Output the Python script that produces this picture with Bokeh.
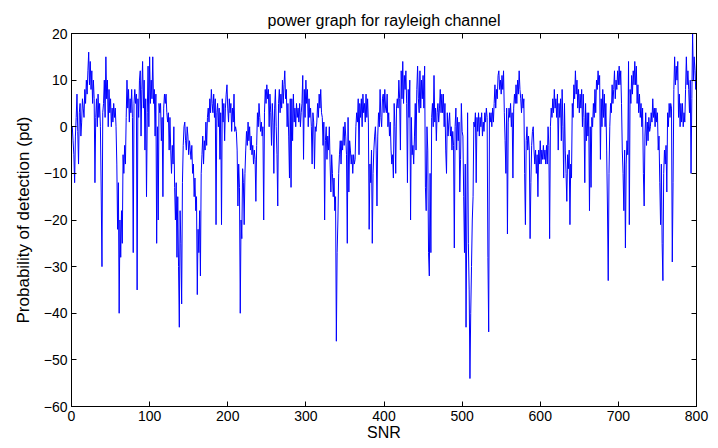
from bokeh.plotting import figure
from bokeh.models import LinearAxis, FixedTicker, Range1d, CustomLabelingPolicy
from bokeh.embed import file_html
from bokeh.resources import INLINE

# SNR index 1..800
snr = list(range(1, 801))

# values, 20 per row (x = 1..800)
power = [
    0, -3, -6, -12, -2, 2, 7, -1, -8, 3, 5, -2, 1, 6, 4, 2, 8, 5, 10, 7,
    12, 16, 9, 14, 8, 12, 5, 10, 6, -12, 2, 6, 0, 7, 2, 5, 0, -14, -30, 3,
    5, 10, 2, 15, 6, 10, 0, 8, 3, 6, 0, 4, 1, 5, 2, 4, 0, -8, -22, -12,
    -40, -20, -28, -18, -25, -6, -10, -4, -8, 2, 10, 4, 8, 1, 6, 3, 8, 2, -27, 5,
    8, 5, 7, -35, 6, 2, 10, 12, -2, 8, 14, 4, 10, -5, 6, -15, 3, 13, 0, 15,
    5, 10, 6, 15, 5, 8, -2, 7, -25, 0, -20, 5, 3, 5, -3, 2, -15, 4, 7, 5,
    7, 3, 1, 3, -5, 2, -5, -10, -4, -8, 0, -13, -20, -12, -28, -15, -30, -43, -18, -25,
    -38, -12, -4, 0, 1, -3, -5, 0, -2, -6, -3, -5, -7, -4, -10, -8, -15, -11, -18, -15,
    -36, -22, -27, -18, -32, -10, -6, -2, -8, -3, -5, 1, -4, 2, 4, 1, 6, 3, 8, 5,
    3, 7, 2, 6, -21, 3, 5, 0, 4, -7, 3, -21, 6, 1, 5, -3, 4, 7, 9, 4,
    1, 6, 3, 5, -1, 4, 1, 7, -1, 0, -1, -5, -17, -8, -13, -40, -20, -24, -9, -12,
    -21, -10, -5, -1, -4, 1, -3, 0, -5, -2, -6, -4, -8, -5, -7, -16, -4, 3, 0, 5,
    2, -1, 1, -2, 0, -20, 3, 8, 5, 9, 6, 8, 0, 7, 3, -4, 5, 1, -10, 4,
    8, 0, -6, -17, 5, 8, 3, 7, 4, 10, 5, 9, 12, 6, 8, 0, 5, -2, -11, 6,
    -13, 6, -3, 7, 1, 4, 0, 5, 2, 4, 1, 5, 0, 3, 5, 11, -7, 8, 2, 10,
    5, 8, 0, 6, 2, 4, 0, -8, 3, 1, -9, 0, -1, 1, 5, 2, 7, 4, 8, 3,
    2, -4, 1, -20, -3, 0, -7, -2, -5, 0, -8, -14, -6, -10, -15, -11, -18, -15, -46, -27,
    -20, -10, -6, -3, -8, -3, -5, 0, -4, 1, -2, -6, -25, 2, -14, -3, -5, -8, -6, -10,
    -6, -8, -7, 0, 3, 1, 6, -6, 5, 2, 6, 0, 7, 3, 5, 1, 7, 2, 6, 1,
    -22, -8, -12, -5, -25, -10, -5, -2, 0, -5, -17, -2, 3, 0, 8, 2, 0, 6, 7, 3,
    8, 4, 3, 7, 0, 3, -2, 1, -5, -8, -6, -11, 5, 0, -10, 4, 6, 4, 10, 6,
    -5, 12, 6, 14, 5, 11, 8, 12, 5, -12, 8, 2, 10, -20, 2, -6, -4, -8, -2, 5,
    -5, 8, 13, 6, 3, 12, 4, 10, 6, 11, 4, 13, -13, -18, 0, -5, -27, -32, -10, -27,
    2, 5, 0, 11, 1, 4, -3, 3, 5, 1, 4, 8, 3, 7, 3, 7, 0, 5, -5, -10,
    3, -2, 1, 3, -2, 0, -5, -1, -4, -26, 0, 4, -5, 2, -3, 1, -14, -7, 5, -1,
    -2, -15, -27, -8, -43, -20, 3, -25, -35, -54, -40, -30, -20, -15, 1, 0, 3, -12, 2, -1,
    3, -2, 2, 0, 3, -2, 1, -1, 3, 1, 4, 2, -28, -44, 3, 1, 3, 0, 4, 1,
    5, 9, 4, 8, 6, 11, 12, 8, 10, 7, 11, 8, 12, 3, -3, -10, 4, -23, 1, 4,
    2, 5, 0, 3, -11, 4, 7, 5, 9, 5, 10, 7, 12, 8, 6, 3, 7, 4, 6, -10,
    -21, -3, 0, -5, -2, -5, -24, -12, -4, -1, 0, -5, -8, -5, -10, -6, -15, -5, -8, -3,
    -8, -5, -7, -4, -7, -5, -8, -4, -8, 0, -4, -24, 0, 4, 2, 6, 3, 8, 4, 6,
    2, 7, -5, 5, 2, 6, -3, 8, 0, -11, 5, -5, -10, -16, -6, -9, -5, -21, -8, -11,
    5, 2, 9, 6, 12, 7, 10, 4, 8, 3, 7, 4, 8, 0, 7, 2, -12, 5, -3, 3,
    -2, 3, -18, 0, -13, 2, 0, 5, 2, 8, 3, 10, 8, 12, 9, 11, -7, 6, 0, 8,
    2, 7, 0, 5, -5, -17, -33, -10, 0, 5, 3, 9, 5, 8, 12, 6, 10, 8, 12, 9,
    13, 9, 12, 5, -5, -10, -18, -5, -26, -8, -3, -6, 14, -21, 8, 5, 11, 7, 12, 9,
    14, 9, 13, 5, 9, 3, 7, 2, 5, 0, 4, -10, -17, -2, 3, -4, 1, -3, 2, -1,
    0, 3, 1, 6, 2, 4, 0, 4, 1, 3, -5, -2, -12, -21, -8, -25, -33, -10, -5, -8,
    -4, -14, 3, 0, 5, 2, 5, 4, -29, -12, 8, 15, 9, 13, 10, 14, 2, 7, 0, 5,
    1, 5, 0, 3, 1, 8, 15, 9, 12, 8, 3, 10, -10, 6, 20, 10, 15, 12, 8, 14,
]

x_ticks = [0, 100, 200, 300, 400, 500, 600, 700, 800]
y_ticks = [-60, -50, -40, -30, -20, -10, 0, 10, 20]

title_text = "power graph for rayleigh channel"
x_label = "SNR"
y_label = "Probability of detection (pd)"

FONT = "Liberation Sans"

p = figure(width=718, height=448, output_backend="svg", toolbar_location=None,
           x_range=Range1d(0, 800), y_range=Range1d(-60, 20),
           min_border_left=71, min_border_right=22,
           min_border_top=33, min_border_bottom=42,
           background_fill_color="white", border_fill_color="white")

p.title.text = title_text
p.title.align = "center"
p.title.text_font = FONT
p.title.text_font_size = "16px"
p.title.text_font_style = "normal"
p.title.text_color = "black"

p.line(snr, power, line_color="#0000ff", line_width=1)

p.xgrid.grid_line_color = None
p.ygrid.grid_line_color = None
p.outline_line_color = "black"
p.outline_line_width = 1

p.xaxis.ticker = FixedTicker(ticks=x_ticks)
p.yaxis.ticker = FixedTicker(ticks=y_ticks)
p.xaxis.axis_label = x_label
p.yaxis.axis_label = y_label

for ax in (p.xaxis[0], p.yaxis[0]):
    ax.major_tick_in = 5
    ax.major_tick_out = 0
    ax.minor_tick_line_color = None
    ax.axis_line_color = "black"
    ax.major_tick_line_color = "black"
    ax.major_label_text_font = FONT
    ax.major_label_text_font_size = "14px"
    ax.major_label_text_color = "black"
    ax.axis_label_text_font = FONT
    ax.axis_label_text_font_style = "normal"
    ax.axis_label_text_color = "black"

p.xaxis.axis_label_text_font_size = "16px"
p.yaxis.axis_label_text_font_size = "17px"
p.xaxis.major_label_standoff = 4
p.xaxis.axis_label_standoff = 0
p.yaxis.major_label_standoff = 4
p.yaxis.axis_label_standoff = 8

# box ticks on top and right (MATLAB style), with no labels drawn
hide_all = """
const n = indices.size;
for (let i = 0; i < n; i++) { indices.unset(i) }
return indices
"""
top = LinearAxis(ticker=FixedTicker(ticks=x_ticks), major_tick_in=5, major_tick_out=0,
                 minor_tick_line_color=None, major_label_standoff=0,
                 major_label_text_font_size="0px",
                 major_label_policy=CustomLabelingPolicy(code=hide_all),
                 axis_line_color="black")
right = LinearAxis(ticker=FixedTicker(ticks=y_ticks), major_tick_in=5, major_tick_out=0,
                   minor_tick_line_color=None, major_label_standoff=0,
                   major_label_text_font_size="0px",
                   major_label_policy=CustomLabelingPolicy(code=hide_all),
                   axis_line_color="black")
p.add_layout(top, "above")
p.add_layout(right, "right")

open("out.html", "w").write(file_html(p, INLINE))
